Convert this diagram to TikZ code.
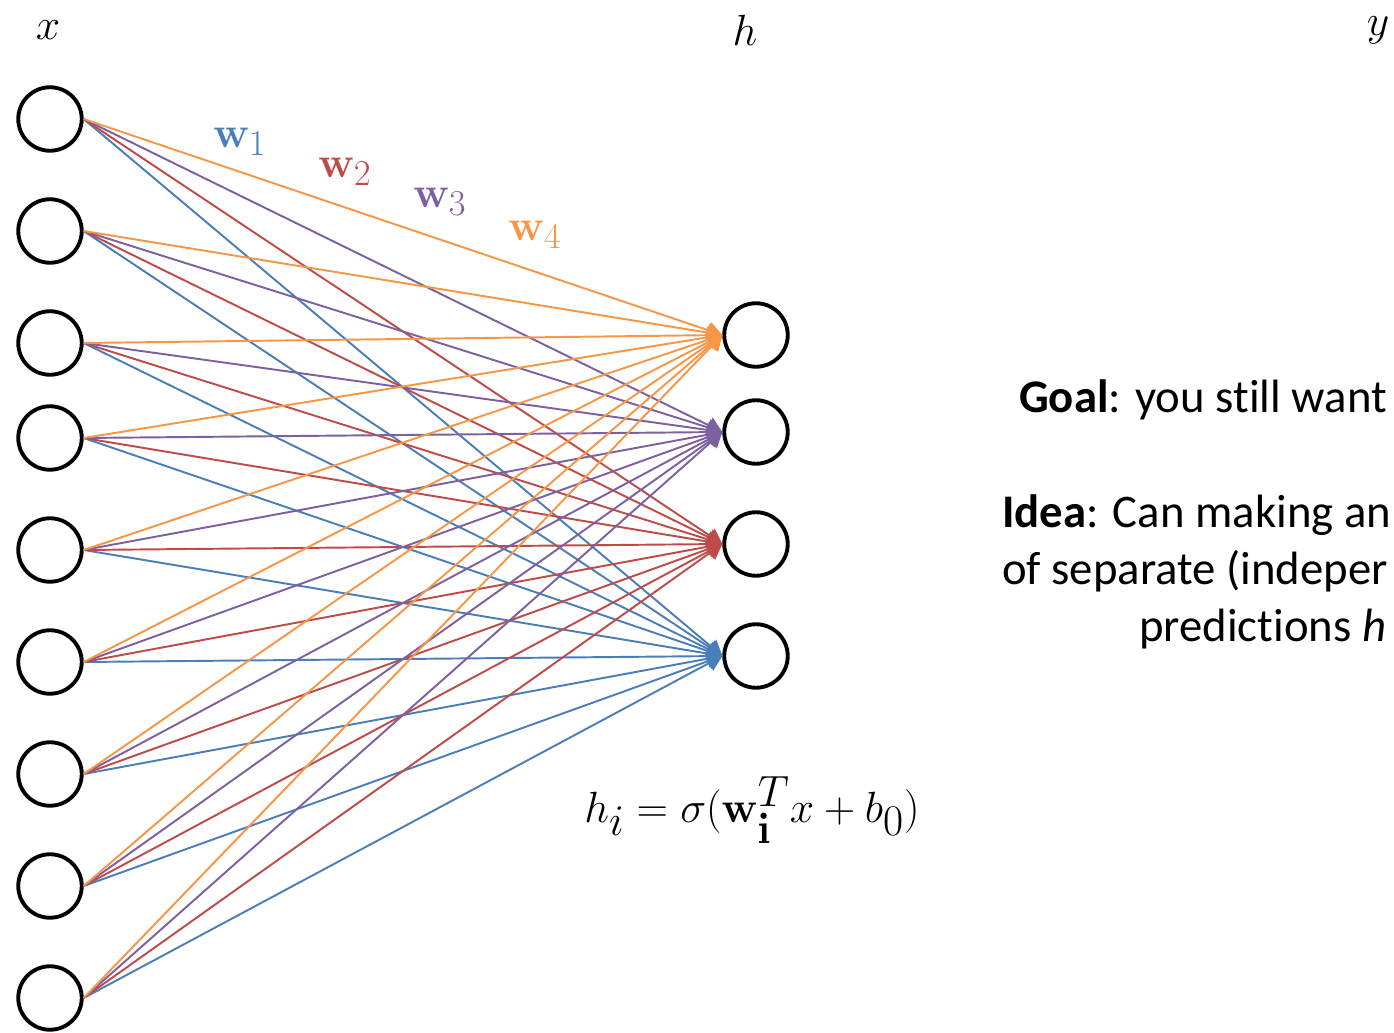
\documentclass[tikz,border=0pt]{standalone}
\usepackage{amsmath}
\usepackage[no-math]{fontspec}
\setmainfont{Carlito}[Ligatures=NoCommon]
\usepackage{xcolor}
\usetikzlibrary{arrows.meta}

\definecolor{wblue}{HTML}{4A7EBB}
\definecolor{wred}{HTML}{BE4B48}
\definecolor{wpurple}{HTML}{7D60A0}
\definecolor{worange}{HTML}{F79646}

\begin{document}
\begin{tikzpicture}[
    x=0.02cm, y=-0.02cm,
    neuron/.style={circle, draw=black, line width=2.2pt, minimum size=1.27cm, inner sep=0pt},
    wire/.style={line width=1.1pt, draw=#1, -{Triangle[length=0.3cm, width=0.34cm, fill=#1]}},
    lab/.style={font=\fontsize{31}{36}\selectfont},
    wlab/.style={text=#1, font=\fontsize{31}{36}\selectfont},
    txt/.style={anchor=base west, font=\fontsize{26.6}{31}\selectfont}
]
\useasboundingbox (0,0) rectangle (1394,1033);

% Input layer
\foreach \y [count=\i] in {119,231,343,438,550,662,774,886,998}
    \node[neuron] (x\i) at (50,\y) {};

% Hidden layer
\foreach \y [count=\j] in {335,432,544,656}
    \node[neuron] (h\j) at (756,\y) {};

% Weights, one colour per hidden unit
\foreach \i in {1,...,9} {
    \draw[wire=wblue] (x\i.east) -- (h4.west);
    \draw[wire=wred] (x\i.east) -- (h3.west);
    \draw[wire=wpurple] (x\i.east) -- (h2.west);
    \draw[wire=worange] (x\i.east) -- (h1.west);
}

% Layer labels
\node[lab] (lx) at (48,30) {$x$};
\node[lab] (lh) at (745,30) {$h$};
\node[lab] (ly) at (1378,30) {$y$};

% Weight labels
\node[wlab=wblue] (w1) at (240,142) {$\mathbf{w}_1$};
\node[wlab=wred] (w2) at (345,172) {$\mathbf{w}_2$};
\node[wlab=wpurple] (w3) at (440,202) {$\mathbf{w}_3$};
\node[wlab=worange] (w4) at (535,235) {$\mathbf{w}_4$};

% Hidden unit formula
\node[font=\fontsize{34}{40}\selectfont] (eq) at (752,810) {$h_i = \sigma(\mathbf{w}_{\mathbf{i}}^{T} x + b_0)$};

% Side text
\node[txt] (goal) at (1013,413) {\textbf{Goal}: you still want};
\node[txt] (idea1) at (996,528) {\textbf{Idea}: Can making an};
\node[txt] (idea2) at (996,585) {of separate (indeper};
\node[txt] (idea3) at (1133,642) {predictions \textit{h}};

\end{tikzpicture}
\end{document}
